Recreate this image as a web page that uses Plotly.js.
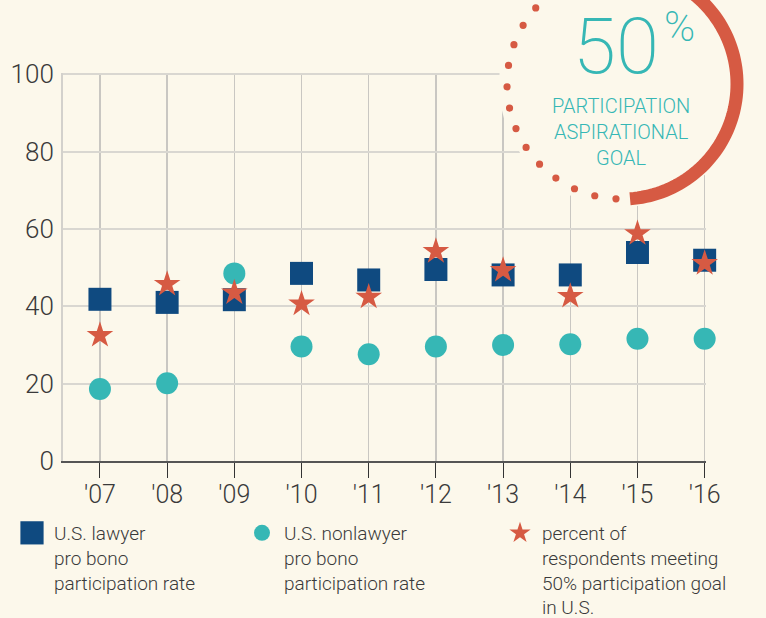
<!DOCTYPE html>
<html>
<head>
<meta charset="utf-8">
<script src="https://cdn.plot.ly/plotly-3.0.1.min.js"></script>
<style>
  html, body { margin: 0; padding: 0; background: #fcf8eb; }
  #chart { width: 766px; height: 618px; }
</style>
</head>
<body>
<div id="chart"></div>
<script>
// ---- data ----
const years = [2007, 2008, 2009, 2010, 2011, 2012, 2013, 2014, 2015, 2016];
const tickLabels = ["'07", "'08", "'09", "'10", "'11", "'12", "'13", "'14", "'15", "'16"];
const lawyerRate = [41.8, 41, 41.7, 48.5, 46.8, 49.5, 48.1, 48.1, 53.9, 51.9];
const nonlawyerRate = [18.6, 20.1, 48.5, 29.6, 27.6, 29.6, 30, 30.2, 31.6, 31.6];
const meetingGoal = [32.5, 45.7, 43.5, 40.6, 42.4, 54.2, 49.3, 42.6, 58.8, 51.1];
const seriesNames = [
  "U.S. lawyer<br>pro bono<br>participation rate",
  "U.S. nonlawyer<br>pro bono<br>participation rate",
  "percent of<br>respondents meeting<br>50% participation goal<br>in U.S."
];

// ---- style ----
const BG = '#fcf8eb';
const BLUE = '#0f4a80';
const TEAL = '#36b7b5';
const RED = '#d65a43';
const TXT = '#3a3a3a';
const FONT = 'Roboto, "Liberation Sans", Arial, sans-serif';

const W = 766, H = 618;
const M = {l: 63, r: 60, t: 73, b: 157, autoexpand: false};
const PW = W - M.l - M.r, PH = H - M.t - M.b;
const px2x = x => (x - M.l) / PW;
const px2y = y => (M.t + PH - y) / PH;

// decorative 50% goal badge (pixel geometry -> paper coords)
const CX = 622, CY = 84, R = 115;
const shapes = [];
shapes.push({type: 'circle', xref: 'paper', yref: 'paper', layer: 'above',
  x0: px2x(CX - 123), x1: px2x(CX + 123), y0: px2y(CY + 123), y1: px2y(CY - 123),
  fillcolor: BG, line: {width: 0}});
let pathPts = [];
for (let a = -92; a <= 86; a += 2) {
  const t = a * Math.PI / 180;
  pathPts.push([px2x(CX + R * Math.cos(t)), px2y(CY + R * Math.sin(t))]);
}
shapes.push({type: 'path', xref: 'paper', yref: 'paper', layer: 'above',
  path: 'M' + pathPts.map(p => p[0].toFixed(5) + ',' + p[1].toFixed(5)).join('L'),
  line: {color: RED, width: 13}});
for (let k = 0; k < 17; k++) {
  const t = (93 + 10.7 * k) * Math.PI / 180;
  const dx = CX + R * Math.cos(t), dy = CY + R * Math.sin(t), dr = 3.6;
  shapes.push({type: 'circle', xref: 'paper', yref: 'paper', layer: 'above',
    x0: px2x(dx - dr), x1: px2x(dx + dr), y0: px2y(dy + dr), y1: px2y(dy - dr),
    fillcolor: RED, line: {width: 0}});
}

const traces = [
  {x: years, y: lawyerRate, name: seriesNames[0], type: 'scatter', mode: 'markers', cliponaxis: false,
   marker: {symbol: 'square', size: 23, color: BLUE}, legend: 'legend'},
  {x: years, y: nonlawyerRate, name: seriesNames[1], type: 'scatter', mode: 'markers', cliponaxis: false,
   marker: {symbol: 'circle', size: 22, color: TEAL}, legend: 'legend2'},
  {x: years, y: meetingGoal, name: seriesNames[2], type: 'scatter', mode: 'markers', cliponaxis: false,
   marker: {symbol: 'star', size: 20, color: RED}, legend: 'legend3'}
];

const legendBase = {
  orientation: 'v', xanchor: 'left', yanchor: 'top', valign: 'top',
  bgcolor: 'rgba(0,0,0,0)', borderwidth: 0, itemwidth: 34,
  font: {family: FONT, size: 19, color: TXT, weight: 300}
};

const layout = {
  width: W, height: H,
  margin: M,
  paper_bgcolor: BG, plot_bgcolor: BG,
  font: {family: FONT, color: TXT},
  showlegend: true,
  legend: Object.assign({}, legendBase, {x: px2x(10), y: px2y(514)}),
  legend2: Object.assign({}, legendBase, {x: px2x(240), y: px2y(514)}),
  legend3: Object.assign({}, legendBase, {x: px2x(498), y: px2y(514)}),
  xaxis: {
    range: [2006.45, 2016.02],
    tickvals: years, ticktext: tickLabels,
    showgrid: true, gridcolor: '#c9c7c2', gridwidth: 1.5,
    zeroline: false,
    showline: true, linecolor: '#555555', linewidth: 1.5,
    ticks: 'outside', ticklen: 15, tickcolor: '#333333', tickwidth: 1,
    ticklabelstandoff: -5,
    tickfont: {family: FONT, size: 25, color: TXT, weight: 300},
    fixedrange: true
  },
  yaxis: {
    range: [0, 100.3],
    tickvals: [0, 20, 40, 60, 80, 100],
    showgrid: true, gridcolor: '#d9d7d1', gridwidth: 2,
    zeroline: false,
    showline: true, linecolor: '#d3d1cc', linewidth: 2,
    ticks: '', ticklabelstandoff: 2,
    tickfont: {family: FONT, size: 26, color: TXT, weight: 300},
    fixedrange: true
  },
  shapes: shapes,
  annotations: [
    {xref: 'paper', yref: 'paper', x: px2x(616), y: px2y(46), text: '50', showarrow: false,
     xanchor: 'center', yanchor: 'middle',
     font: {family: FONT, size: 78, color: TEAL, weight: 200}},
    {xref: 'paper', yref: 'paper', x: px2x(679), y: px2y(27), text: '%', showarrow: false,
     xanchor: 'center', yanchor: 'middle',
     font: {family: FONT, size: 42, color: TEAL, weight: 200}},
    {xref: 'paper', yref: 'paper', x: px2x(621), y: px2y(132),
     text: 'PARTICIPATION<br>ASPIRATIONAL<br>GOAL', showarrow: false,
     xanchor: 'center', yanchor: 'middle', align: 'center',
     font: {family: FONT, size: 20, color: TEAL, weight: 300}}
  ]
};

Plotly.newPlot('chart', traces, layout, {displayModeBar: false, staticPlot: true}).then(() => {
  document.querySelectorAll('.legend .legendpoints path').forEach(p => {
    const tr = p.getAttribute('transform') || '';
    p.setAttribute('transform', tr + ' scale(1.45)');
  });
});
</script>
</body>
</html>
